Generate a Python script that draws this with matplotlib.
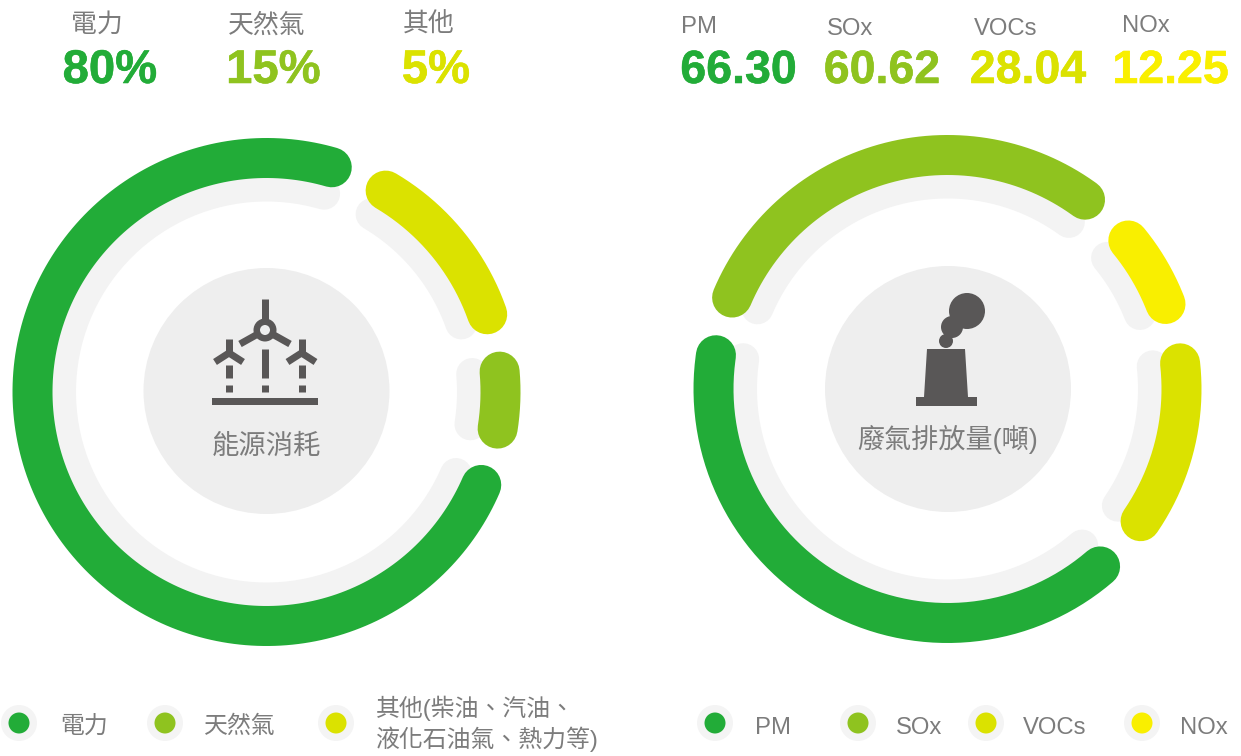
import numpy as np
import matplotlib
matplotlib.use("Agg")
import matplotlib.pyplot as plt
import matplotlib.patheffects as pe
from matplotlib.patches import Circle, Polygon, Rectangle

# ---- data ----
energy_labels = ["電力", "天然氣", "其他"]
energy_values = ["80%", "15%", "5%"]
energy_legend = ["電力", "天然氣", "其他(柴油、汽油、\n液化石油氣、熱力等)"]
energy_arc_start = [113.4, 85.0, 30.6]     # degrees clockwise from top
energy_arc_end = [376.2, 99.0, 70.6]

emission_labels = ["PM", "SOx", "VOCs", "NOx"]
emission_values = ["66.30", "60.62", "28.04", "12.25"]
emission_arc_start = [139.3, -67.0, 83.7, 50.6]
emission_arc_end = [278.3, 36.0, 124.4, 68.7]

energy_title = "能源消耗"
emission_title = "廢氣排放量(噸)"

# ---- style ----
GREEN, OLIVE, LIME, YELLOW = "#22ac38", "#8fc31f", "#dbe200", "#f9ef00"
TRACK, DISC, ICON, TEXT = "#f3f3f3", "#eeeeee", "#595757", "#7c7c7c"
energy_colors = [GREEN, OLIVE, LIME]
emission_colors = [GREEN, OLIVE, LIME, YELLOW]

W, H = 1241, 756
plt.rcParams["font.family"] = ["Liberation Sans", "Noto Sans CJK TC", "DejaVu Sans"]
fig = plt.figure(figsize=(W / 100, H / 100), dpi=100)
px = 72 / 100

ov = fig.add_axes([0, 0, 1, 1], zorder=3)
ov.set_xlim(0, W)
ov.set_ylim(H, 0)
ov.axis("off")
ov.patch.set_alpha(0)


def ring(cx, cy, starts, ends, colors):
    R = 270
    ax = fig.add_axes([(cx - R) / W, 1 - (cy + R) / H, 2 * R / W, 2 * R / H],
                      projection="polar", zorder=1)
    ax.set_theta_zero_location("N")
    ax.set_theta_direction(-1)
    ax.set_rlim(0, R)
    ax.axis("off")
    ax.patch.set_alpha(0)
    for s, e in zip(starts, ends):
        th = np.radians(np.linspace(s, e, 200))
        ax.plot(th, np.full_like(th, 206.5), color=TRACK, lw=32 * px,
                solid_capstyle="round", zorder=1)
    for s, e, c in zip(starts, ends, colors):
        th = np.radians(np.linspace(s, e, 200))
        ax.plot(th, np.full_like(th, 234.0), color=c, lw=40 * px,
                solid_capstyle="round", zorder=2)


ring(266.5, 392, energy_arc_start, energy_arc_end, energy_colors)
ring(947.5, 389, emission_arc_start, emission_arc_end, emission_colors)

ov.add_patch(Circle((266.5, 391), 123, fc=DISC, ec="none"))
ov.add_patch(Circle((948, 389), 123, fc=DISC, ec="none"))


# ---- wind turbine icon ----
def seg(x0, y0, x1, y1, w=7):
    ov.plot([x0, x1], [y0, y1], color=ICON, lw=w * px, solid_capstyle="butt", zorder=4)


seg(265, 299, 265, 330)
seg(265, 330, 240, 344)
seg(265, 330, 290, 344)
ov.add_patch(Circle((265, 330), 11.5, fc=ICON, ec="none", zorder=5))
ov.add_patch(Circle((265, 330), 5, fc=DISC, ec="none", zorder=6))
seg(265, 349, 265, 378)
seg(265, 385, 265, 392)
for x in (229, 301.5):
    seg(x, 339, x, 353)
    seg(x, 353, x - 14, 362)
    seg(x, 353, x + 14, 362)
    seg(x, 365, x, 378)
    seg(x, 385, x, 392)
ov.add_patch(Rectangle((212, 398), 106, 7, fc=ICON, ec="none", zorder=4))

# ---- factory icon ----
for c, r in (((967, 311), 18), ((952, 327), 11), ((946, 341), 7)):
    ov.add_patch(Circle(c, r, fc=ICON, ec="none", zorder=4))
ov.add_patch(Polygon([(927, 349), (965, 349), (968, 397), (924, 397)],
                     fc=ICON, ec="none", zorder=4))
ov.add_patch(Rectangle((916, 397), 61, 9, fc=ICON, ec="none", zorder=4))

# ---- centre titles ----
ov.text(266, 446.5, energy_title, fontsize=19.7, color=TEXT, ha="center", va="center", zorder=5)
ov.text(947.5, 439, emission_title, fontsize=19.5, color=TEXT, ha="center", va="center", zorder=5)

# ---- top headers ----
for x, lab in zip([97, 267, 429], energy_labels):
    ov.text(x, 25, lab, fontsize=18.6, color=TEXT, ha="center", va="center")
for x, val, c in zip([110, 273.5, 436], energy_values, energy_colors):
    ov.text(x, 71, val, fontsize=34, fontweight="bold", color=c, ha="center", va="center",
            path_effects=[pe.withStroke(linewidth=0.4, foreground=c)])
for x, y, lab in zip([699, 850, 1006, 1146], [27, 29, 29, 26], emission_labels):
    ov.text(x, y, lab, fontsize=17.2, color=TEXT, ha="center", va="center")
for x, val, c in zip([738.5, 882, 1028, 1170.5], emission_values, emission_colors):
    ov.text(x, 71, val, fontsize=33.5, fontweight="bold", color=c, ha="center", va="center",
            path_effects=[pe.withStroke(linewidth=0.4, foreground=c)])


# ---- legends ----
def dot(x, c):
    ov.add_patch(Circle((x, 723), 18, fc="#f4f4f4", ec="none"))
    ov.add_patch(Circle((x, 723), 10.5, fc=c, ec="none"))


for x, c in zip([19, 165, 336], energy_colors):
    dot(x, c)
for x, y, lab in zip([60, 204, 376], [727, 727, 724], energy_legend):
    ov.text(x, y, lab, fontsize=17.2, color=TEXT, ha="left", va="center", linespacing=1.25)
for x, c in zip([715, 858, 986, 1142], emission_colors):
    dot(x, c)
for x, lab in zip([755, 896, 1023, 1180], emission_labels):
    ov.text(x, 728, lab, fontsize=17.2, color=TEXT, ha="left", va="center")

fig.savefig("out.png", dpi=100, facecolor="white")
